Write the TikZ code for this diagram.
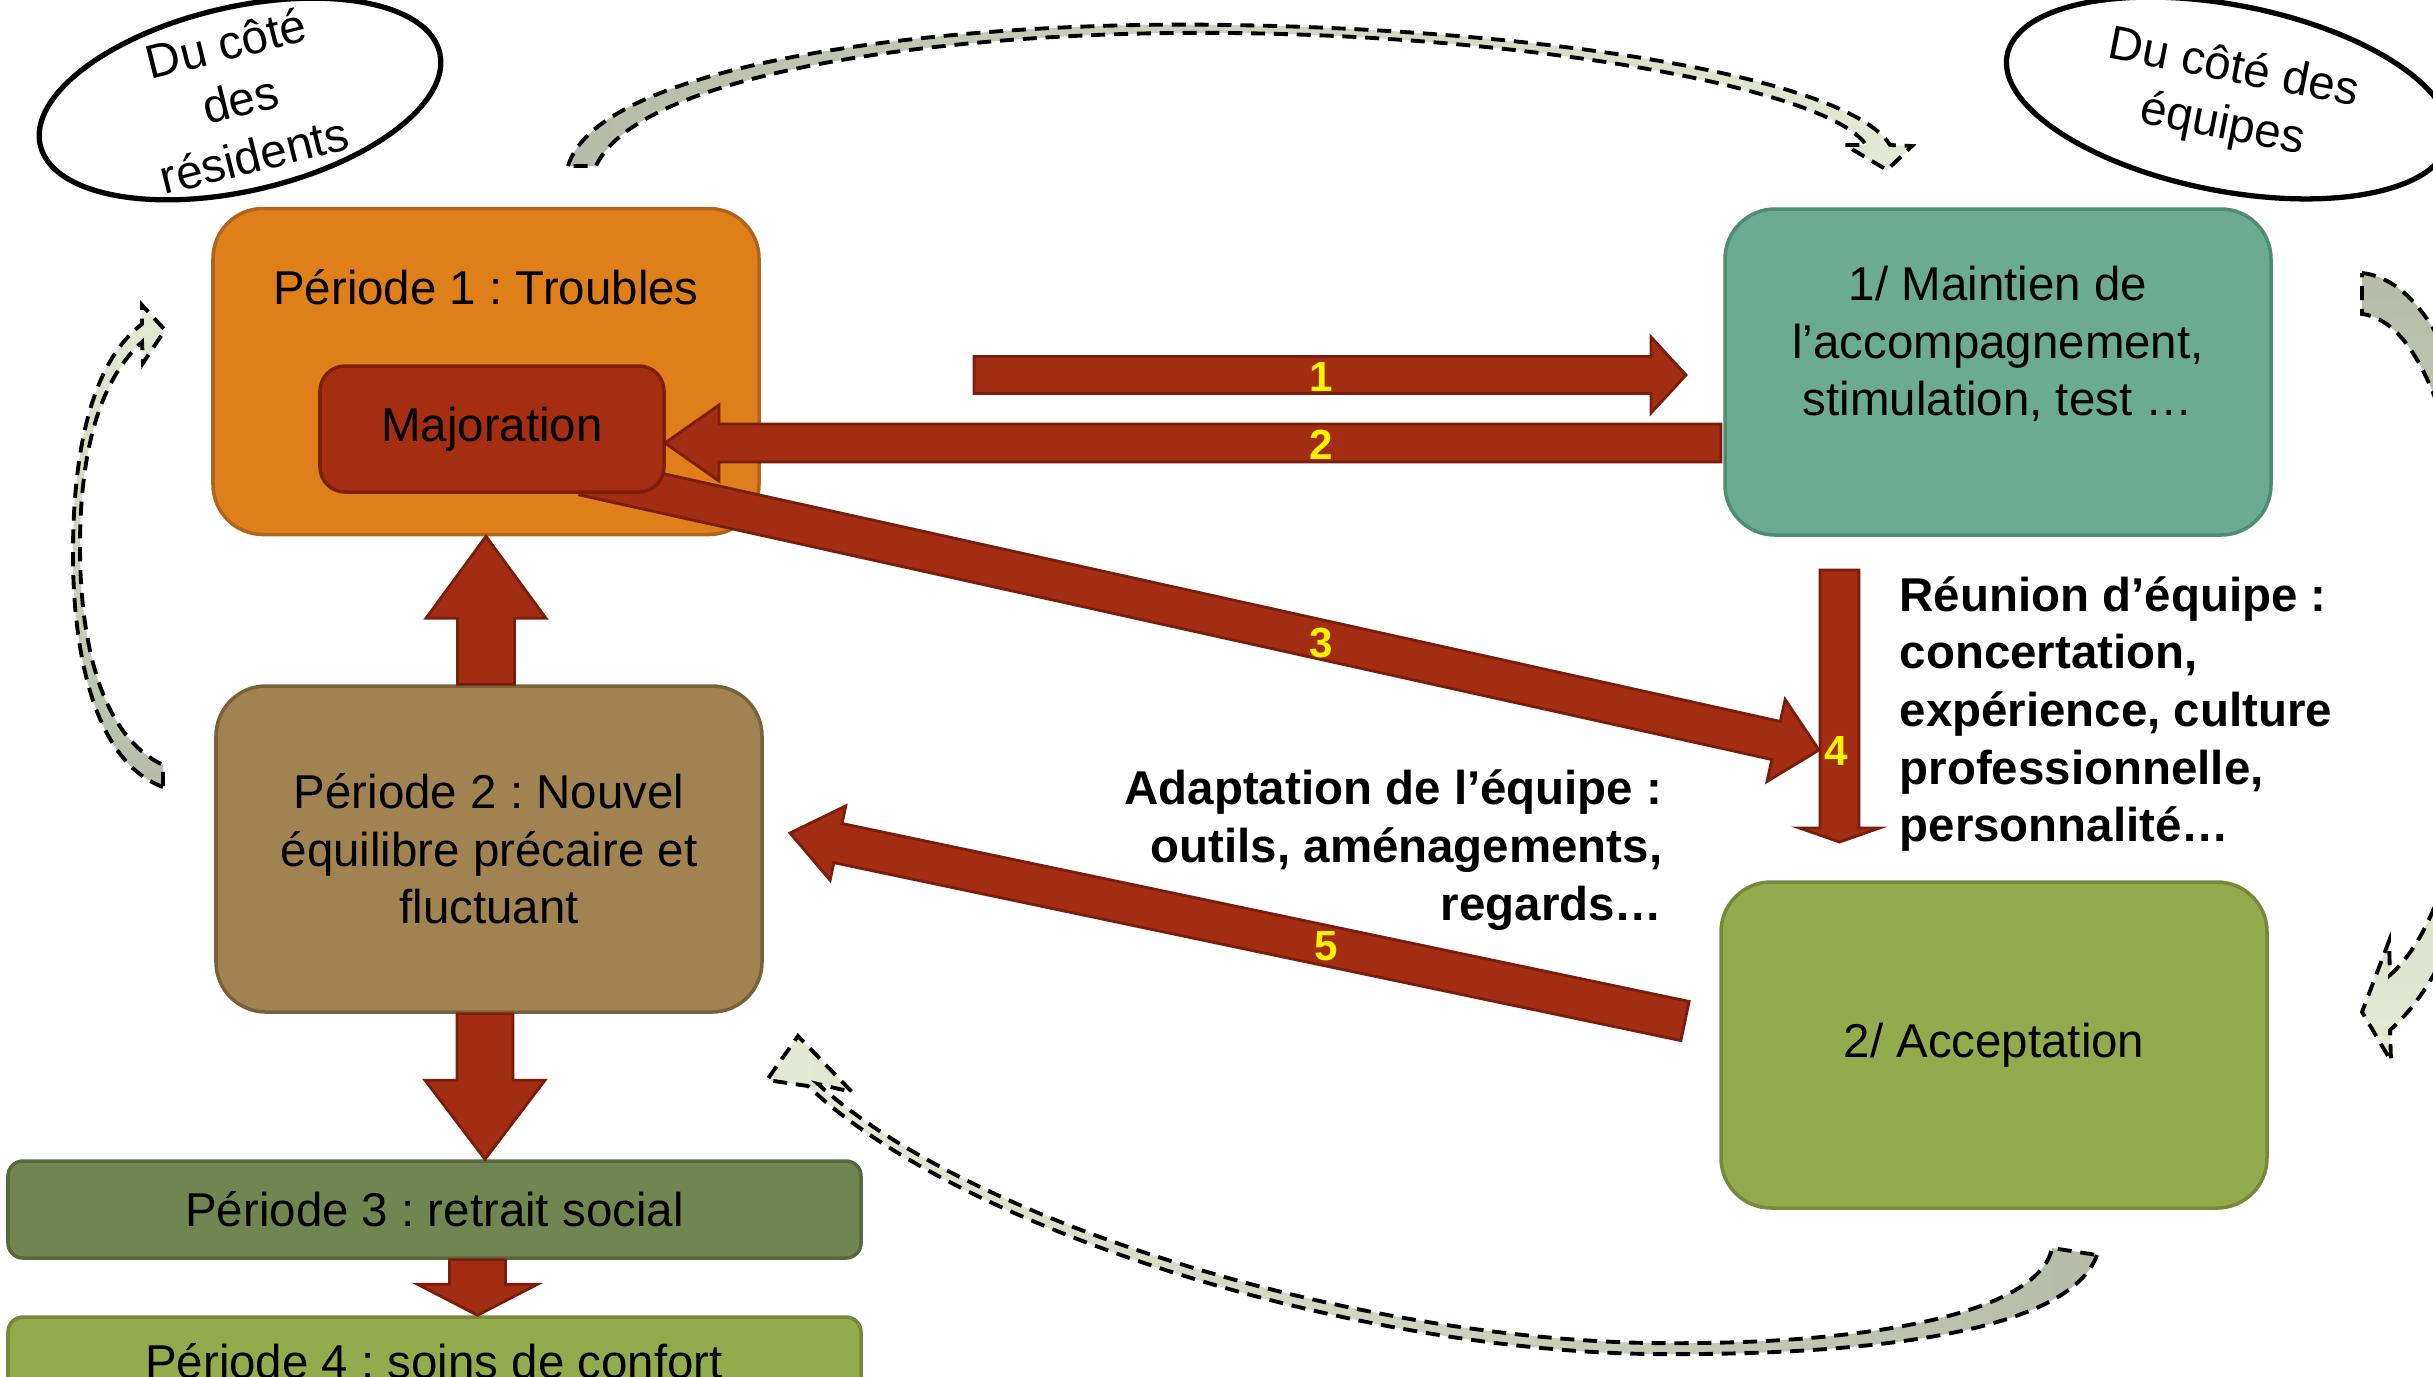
\documentclass[tikz,border=0pt]{standalone}
\usepackage{fontspec}
\setmainfont{Liberation Sans}
\usepackage{tikz}
\usetikzlibrary{shapes.geometric,calc,positioning}
\frenchspacing
\definecolor{troubleorange}{HTML}{DF7F1A}
\definecolor{troubleline}{HTML}{B0641C}
\definecolor{majorred}{HTML}{A52D12}
\definecolor{majorline}{HTML}{7E1F0B}
\definecolor{maintteal}{HTML}{6AAB91}
\definecolor{maintline}{HTML}{4F8C72}
\definecolor{equiltan}{HTML}{A08350}
\definecolor{equilline}{HTML}{7A6238}
\definecolor{retraitgreen}{HTML}{718551}
\definecolor{retraitline}{HTML}{56693C}
\definecolor{confortgreen}{HTML}{93AA4D}
\definecolor{confortline}{HTML}{76893A}
\definecolor{arrowred}{HTML}{A32D12}
\definecolor{arrowline}{HTML}{7A1E0B}
\definecolor{curvdark}{HTML}{B5BCA7}
\definecolor{curvlight}{HTML}{E5EAD4}
\newcommand{\normaltxt}{\fontsize{13.5}{16.4}\selectfont}
\newcommand{\fatarrow}[5]{%
  \coordinate (fatbase) at ($(#2)!#5!(#1)$);
  \draw[fatarr] ($(#1)!#3!90:(#2)$) -- ($(fatbase)!#3!-90:(#1)$) -- ($(fatbase)!#4!-90:(#1)$) -- (#2)
    -- ($(fatbase)!#4!90:(#1)$) -- ($(fatbase)!#3!90:(#1)$) -- ($(#1)!#3!-90:(#2)$) -- cycle;
}

\begin{document}
\begin{tikzpicture}[
    box/.style={rectangle, rounded corners=0.5cm, line width=1pt, minimum width=5.46cm,
                minimum height=3.26cm, font=\normaltxt, align=center},
    bar/.style={rectangle, rounded corners=0.15cm, line width=1pt, minimum width=8.53cm,
                minimum height=0.97cm, font=\normaltxt},
    txt/.style={font=\normaltxt, align=center, inner sep=0pt},
    boldtxt/.style={font=\normaltxt\bfseries, inner sep=0pt},
    num/.style={font=\fontsize{12}{14}\selectfont\bfseries, text=yellow, inner sep=0pt},
    bubble/.style={ellipse, draw, line width=1.5pt},
    fatarr/.style={fill=arrowred, draw=arrowline, line width=0.8pt},
    curvarr/.style={draw=black, line width=1.1pt, dash pattern=on 4pt off 2.5pt}
]
    \clip (0,0) rectangle (24.33,-13.76);
    \fill[white] (0,0) rectangle (24.33,-13.76);

    \node[bubble, minimum width=4.1cm, minimum height=1.84cm, rotate=13] (resid) at (2.40,-0.99) {};
    \node[txt, rotate=14] (residtxt) at (resid.center) {Du côté\\des\\résidents};
    \node[bubble, minimum width=4.5cm, minimum height=1.86cm, rotate=-11] (equip) at (22.28,-0.98) {};
    \node[txt, rotate=-11] (equiptxt) at (equip.center) {Du côté des\\équipes};

    % cycle arrows
    \draw[curvarr, left color=curvdark, right color=curvlight]
        (5.68,-1.66) .. controls (6.00,-0.60) and (9.60,-0.20) .. (12.29,-0.25)
        .. controls (15.60,-0.30) and (18.50,-0.80) .. (18.90,-1.45)
        -- (19.12,-1.46) -- (18.87,-1.70) -- (18.45,-1.45) -- (18.66,-1.45)
        .. controls (18.30,-0.90) and (15.40,-0.36) .. (12.29,-0.33)
        .. controls (9.60,-0.30) and (6.40,-0.70) .. (5.96,-1.66) -- cycle;
    \draw[curvarr, top color=curvdark, bottom color=curvlight]
        (23.62,-2.73) .. controls (25.20,-2.90) and (25.60,-8.80) .. (23.90,-10.30)
        -- (23.91,-10.61) -- (23.62,-10.12) -- (23.89,-9.41) -- (23.90,-9.75)
        .. controls (25.20,-8.60) and (24.90,-3.30) .. (23.62,-3.14) -- cycle;
    \draw[curvarr, left color=curvlight, right color=curvdark]
        (20.97,-12.55) .. controls (20.70,-13.30) and (18.80,-13.56) .. (16.50,-13.54)
        .. controls (13.50,-13.50) and (9.60,-12.30) .. (8.08,-10.86)
        -- (7.67,-10.80) -- (7.98,-10.36) -- (8.52,-10.92) -- (8.18,-10.84)
        .. controls (9.70,-12.22) and (13.50,-13.38) .. (16.50,-13.43)
        .. controls (18.80,-13.46) and (20.40,-13.10) .. (20.52,-12.48) -- cycle;
    \draw[curvarr, bottom color=curvdark, top color=curvlight]
        (1.63,-7.87) .. controls (0.90,-7.60) and (0.72,-6.40) .. (0.73,-5.47)
        .. controls (0.74,-4.40) and (0.95,-3.60) .. (1.42,-3.24)
        -- (1.42,-3.05) -- (1.65,-3.30) -- (1.43,-3.63) -- (1.42,-3.42)
        .. controls (1.00,-3.80) and (0.80,-4.50) .. (0.80,-5.47)
        .. controls (0.80,-6.40) and (1.00,-7.35) .. (1.63,-7.65) -- cycle;

    \node[box, fill=troubleorange, draw=troubleline] (p1) at (4.86,-3.715) {};
    \node[txt] (p1title) at (4.86,-2.87) {Période 1 : Troubles};
    \node[box, fill=maintteal, draw=maintline] (maint) at (19.98,-3.72) {};
    \node[txt] (mainttxt) at (19.98,-3.44) {1/ Maintien de\\l’accompagnement,\\stimulation, test …};
    \node[box, fill=equiltan, draw=equilline] (p2) at (4.89,-8.49) {Période 2 : Nouvel\\équilibre précaire et\\fluctuant};
    \node[bar, fill=retraitgreen, draw=retraitline] (p3) at (4.345,-12.095) {Période 3 : retrait social};
    \node[bar, fill=confortgreen, draw=confortline, minimum height=1.2cm] (p4) at (4.345,-13.77) {};
    \node[txt, anchor=base] (p4txt) at (4.34,-13.78) {Période 4 : soins de confort};
    \node[box, fill=confortgreen, draw=confortline] (accept) at (19.94,-10.45) {2/ Acceptation};

    \coordinate (a1tail) at (9.74,-3.75);
    \coordinate (a1tip) at (16.86,-3.75);
    \coordinate (a2tail) at (17.21,-4.43);
    \coordinate (a2tip) at (6.65,-4.43);
    \coordinate (a3tail) at (5.84,-4.76);
    \coordinate (a3tip) at (18.19,-7.50);
    \coordinate (a4tail) at (18.395,-5.70);
    \coordinate (a4tip) at (18.395,-8.42);
    \coordinate (a5tail) at (16.85,-10.21);
    \coordinate (a5tip) at (7.90,-8.33);
    \coordinate (uptip) at (p1.south);
    \coordinate (upbase) at (p1.south |- p2.north);
    \coordinate (dnbase) at ($(p2.south)+(-0.04,0)$);
    \coordinate (dntip) at (dnbase |- p3.north);
    \coordinate (dn2base) at ($(p3.south)+(0.43,0)$);
    \coordinate (dn2tip) at (dn2base |- p4.north);

    \fatarrow{upbase}{uptip}{0.285cm}{0.60cm}{0.82cm}
    \fatarrow{dnbase}{dntip}{0.28cm}{0.60cm}{0.79cm}
    \fatarrow{dn2base}{dn2tip}{0.28cm}{0.60cm}{0.31cm}
    \fatarrow{a1tail}{a1tip}{0.185cm}{0.38cm}{0.35cm}
    \fatarrow{a2tail}{a2tip}{0.19cm}{0.38cm}{0.54cm}
    \fatarrow{a3tail}{a3tip}{0.195cm}{0.42cm}{0.44cm}
    \fatarrow{a4tail}{a4tip}{0.195cm}{0.40cm}{0.14cm}
    \fatarrow{a5tail}{a5tip}{0.20cm}{0.38cm}{0.49cm}

    \node[rectangle, rounded corners=0.25cm, fill=majorred, draw=majorline, line width=1pt,
          minimum width=3.44cm, minimum height=1.26cm, font=\normaltxt] (major) at (4.92,-4.29) {Majoration};

    \node[num] (n1) at (13.21,-3.77) {1};
    \node[num] (n2) at (13.21,-4.45) {2};
    \node[num] (n3) at (13.21,-6.43) {3};
    \node[num] (n4) at (18.36,-7.51) {4};
    \node[num] (n5) at (13.26,-9.46) {5};

    \node[boldtxt, anchor=west, align=left] (reunion) at (18.99,-7.14)
        {Réunion d’équipe :\\concertation,\\expérience, culture\\professionnelle,\\personnalité…};
    \node[boldtxt, anchor=east, align=right] (adapt) at (16.63,-8.50)
        {Adaptation de l’équipe :\\outils, aménagements,\\regards…};
\end{tikzpicture}
\end{document}
